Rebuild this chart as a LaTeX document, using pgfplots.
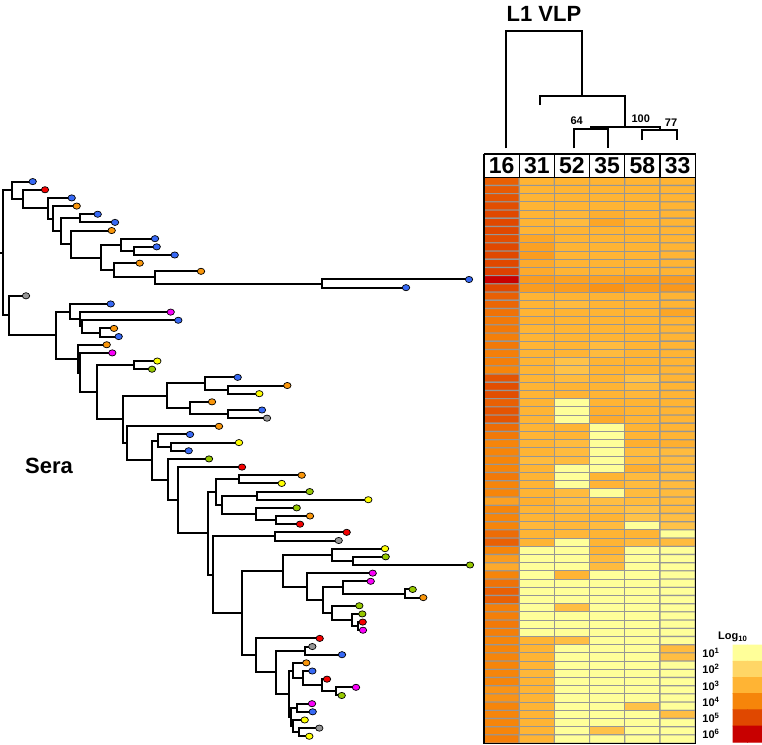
\documentclass[border=0pt]{standalone}
\usepackage{fontspec}
\setmainfont{Liberation Sans}
\usepackage{pgfplots}
\pgfplotsset{compat=1.18}
\definecolor{tblue}{RGB}{55,105,245}
\definecolor{tred}{RGB}{245,0,0}
\definecolor{torange}{RGB}{250,150,10}
\definecolor{tmag}{RGB}{250,0,250}
\definecolor{tyel}{RGB}{255,255,0}
\definecolor{tgreen}{RGB}{150,200,0}
\definecolor{tgray}{RGB}{150,150,150}
\definecolor{gridc}{RGB}{150,150,150}
\pgfplotsset{
  colormap={heat}{rgb255=(255,255,153) rgb255=(255,214,102) rgb255=(255,180,52) rgb255=(246,133,10) rgb255=(224,72,0) rgb255=(200,0,0)},
  canvas/.style={width=381pt, height=372.5pt, scale only axis, hide axis, clip=false,
    at={(0,0)}, anchor=south west, y dir=reverse, point meta min=1, point meta max=6},
  tips/.style={only marks, mark=*, mark size=1.55pt,
    mark options={fill=#1, draw=black, line width=0.35pt, xscale=1.2}},
}
\begin{document}
\begin{tikzpicture}
% ---- pixel layer: column dendrogram, titles, legend
\begin{axis}[canvas, xmin=0, xmax=762, ymin=0, ymax=745]
\addplot[black, line width=1pt, unbounded coords=jump] coordinates {
 (506,148.3) (506,31) (582.3,31) (582.3,96) (nan,nan)
 (540,105) (540,96) (625,96) (625,126.7) (nan,nan)
 (591,129.3) (591,126.7) (659.5,126.7) (659.5,130) (nan,nan)
 (574.3,148.3) (574.3,129.3) (607.7,129.3) (607.7,148.3) (nan,nan)
 (642.3,140) (642.3,130) (676.7,130) (676.7,140)
};
\node[font=\fontsize{11}{13}\selectfont\bfseries] at (axis cs:544,13.5) {L1 VLP};
\node[font=\fontsize{5.5}{6}\selectfont\bfseries] at (axis cs:576.7,121) {64};
\node[font=\fontsize{5.5}{6}\selectfont\bfseries] at (axis cs:640.7,119) {100};
\node[font=\fontsize{5.5}{6}\selectfont\bfseries] at (axis cs:671,122.3) {77};
\node[font=\fontsize{11}{13}\selectfont\bfseries] at (axis cs:49,466) {Sera};
% legend
\addplot[matrix plot*, mesh/cols=2, point meta=explicit] coordinates {
 (740.25,653.1) [1] (754.75,653.1) [1]
 (740.25,669.3) [2] (754.75,669.3) [2]
 (740.25,685.5) [3] (754.75,685.5) [3]
 (740.25,701.7) [4] (754.75,701.7) [4]
 (740.25,717.9) [5] (754.75,717.9) [5]
 (740.25,734.1) [6] (754.75,734.1) [6]
};
\node[font=\fontsize{5.5}{6}\selectfont\bfseries] at (axis cs:733,637) {Log\textsubscript{10}};
\foreach \k/\yy in {1/653.1,2/669.3,3/685.5,4/701.7,5/717.9,6/734.1}{
  \edef\temp{\noexpand\node[font=\noexpand\fontsize{5.5}{6}\noexpand\selectfont\noexpand\bfseries, anchor=east] at (axis cs:727,\yy) {10\noexpand\textsuperscript{\k}};}
  \temp
}
\end{axis}
% ---- heatmap layer: column c, row r
\begin{axis}[canvas, xmin=-13.25, xmax=8.398, ymin=-21.122, ymax=69.732]
\addplot[matrix plot*, shader=faceted, faceted color=gridc, line width=0.55pt,
  mesh/cols=6, point meta=explicit] coordinates {
(1,1)[4.6] (2,1)[3] (3,1)[3] (4,1)[3] (5,1)[3] (6,1)[3]
(1,2)[4.7] (2,2)[3] (3,2)[3] (4,2)[3] (5,2)[3] (6,2)[3]
(1,3)[4.8] (2,3)[3] (3,3)[3] (4,3)[3] (5,3)[3] (6,3)[3]
(1,4)[4.9] (2,4)[3] (3,4)[3] (4,4)[3] (5,4)[3] (6,4)[3]
(1,5)[5.0] (2,5)[3] (3,5)[2.9] (4,5)[3.1] (5,5)[3] (6,5)[3]
(1,6)[5.0] (2,6)[3] (3,6)[2.8] (4,6)[3.3] (5,6)[3] (6,6)[3]
(1,7)[5.0] (2,7)[3] (3,7)[3] (4,7)[3] (5,7)[3] (6,7)[3]
(1,8)[4.9] (2,8)[3.3] (3,8)[3] (4,8)[3] (5,8)[3] (6,8)[3]
(1,9)[5.0] (2,9)[3.4] (3,9)[3] (4,9)[3] (5,9)[3] (6,9)[3]
(1,10)[5.0] (2,10)[3.5] (3,10)[3] (4,10)[3] (5,10)[3] (6,10)[3]
(1,11)[5.0] (2,11)[3.2] (3,11)[3] (4,11)[3] (5,11)[3] (6,11)[3]
(1,12)[5.1] (2,12)[3.2] (3,12)[3] (4,12)[3] (5,12)[3] (6,12)[3]
(1,13)[6.0] (2,13)[3.5] (3,13)[3.4] (4,13)[3.4] (5,13)[3.5] (6,13)[3.5]
(1,14)[5.0] (2,14)[3.5] (3,14)[3.5] (4,14)[3.7] (5,14)[3.5] (6,14)[3.6]
(1,15)[4.6] (2,15)[3] (3,15)[3] (4,15)[3] (5,15)[3] (6,15)[3]
(1,16)[4.5] (2,16)[3] (3,16)[2.8] (4,16)[3] (5,16)[3] (6,16)[3]
(1,17)[4.3] (2,17)[3] (3,17)[3] (4,17)[3] (5,17)[3] (6,17)[3.3]
(1,18)[4.2] (2,18)[3.1] (3,18)[3] (4,18)[3] (5,18)[3] (6,18)[3]
(1,19)[4.2] (2,19)[3] (3,19)[3] (4,19)[3] (5,19)[3] (6,19)[3]
(1,20)[4.1] (2,20)[3] (3,20)[3] (4,20)[3] (5,20)[3] (6,20)[3]
(1,21)[4.2] (2,21)[3] (3,21)[3] (4,21)[2.8] (5,21)[3] (6,21)[3]
(1,22)[4.1] (2,22)[3] (3,22)[3] (4,22)[2.8] (5,22)[3] (6,22)[3]
(1,23)[4.1] (2,23)[3] (3,23)[2.6] (4,23)[3] (5,23)[3] (6,23)[3]
(1,24)[4.0] (2,24)[3] (3,24)[2.6] (4,24)[3] (5,24)[3] (6,24)[3]
(1,25)[4.8] (2,25)[3] (3,25)[2.8] (4,25)[3] (5,25)[2.6] (6,25)[3]
(1,26)[4.9] (2,26)[3] (3,26)[3] (4,26)[3] (5,26)[2.8] (6,26)[3]
(1,27)[4.9] (2,27)[3] (3,27)[3] (4,27)[3] (5,27)[2.9] (6,27)[3]
(1,28)[4.6] (2,28)[3] (3,28)[1] (4,28)[3] (5,28)[3] (6,28)[3]
(1,29)[4.8] (2,29)[3] (3,29)[1] (4,29)[3.1] (5,29)[3] (6,29)[3]
(1,30)[4.8] (2,30)[3] (3,30)[1] (4,30)[3.2] (5,30)[3] (6,30)[3]
(1,31)[4.4] (2,31)[3] (3,31)[3] (4,31)[1] (5,31)[3] (6,31)[3]
(1,32)[4.2] (2,32)[3] (3,32)[3] (4,32)[1] (5,32)[3] (6,32)[3]
(1,33)[4.0] (2,33)[3] (3,33)[2.8] (4,33)[1] (5,33)[3.1] (6,33)[3.1]
(1,34)[4.0] (2,34)[3] (3,34)[2.8] (4,34)[1] (5,34)[2.8] (6,34)[2.8]
(1,35)[4.0] (2,35)[2.8] (3,35)[2.8] (4,35)[1] (5,35)[2.8] (6,35)[2.8]
(1,36)[4.0] (2,36)[3] (3,36)[1] (4,36)[1] (5,36)[3.1] (6,36)[2.8]
(1,37)[4.2] (2,37)[3] (3,37)[1] (4,37)[3] (5,37)[2.8] (6,37)[2.8]
(1,38)[4.0] (2,38)[3] (3,38)[1] (4,38)[3] (5,38)[2.8] (6,38)[2.8]
(1,39)[4.0] (2,39)[3] (3,39)[2.8] (4,39)[1] (5,39)[2.8] (6,39)[2.8]
(1,40)[3.4] (2,40)[3.1] (3,40)[2.7] (4,40)[2.7] (5,40)[2.8] (6,40)[2.8]
(1,41)[4.0] (2,41)[3] (3,41)[2.8] (4,41)[2.8] (5,41)[2.6] (6,41)[2.8]
(1,42)[4.0] (2,42)[3] (3,42)[2.9] (4,42)[3] (5,42)[2.6] (6,42)[2.7]
(1,43)[4.0] (2,43)[2.9] (3,43)[2.9] (4,43)[2.8] (5,43)[1] (6,43)[2.6]
(1,44)[4.4] (2,44)[3] (3,44)[2.9] (4,44)[3] (5,44)[3] (6,44)[1]
(1,45)[4.6] (2,45)[3] (3,45)[1] (4,45)[3] (5,45)[2.8] (6,45)[2.8]
(1,46)[4.0] (2,46)[1] (3,46)[1] (4,46)[3] (5,46)[1] (6,46)[1]
(1,47)[3.5] (2,47)[1] (3,47)[1] (4,47)[2.8] (5,47)[1] (6,47)[1]
(1,48)[3.2] (2,48)[1] (3,48)[1] (4,48)[2.8] (5,48)[1] (6,48)[1]
(1,49)[4.0] (2,49)[1] (3,49)[3] (4,49)[1] (5,49)[1] (6,49)[1]
(1,50)[4.3] (2,50)[1] (3,50)[1] (4,50)[1] (5,50)[1] (6,50)[1]
(1,51)[4.6] (2,51)[1] (3,51)[1] (4,51)[1] (5,51)[1] (6,51)[1]
(1,52)[4.6] (2,52)[1] (3,52)[1] (4,52)[1] (5,52)[1] (6,52)[1]
(1,53)[4.1] (2,53)[1] (3,53)[2.7] (4,53)[1] (5,53)[1] (6,53)[1]
(1,54)[4.1] (2,54)[1] (3,54)[1] (4,54)[1] (5,54)[1] (6,54)[1]
(1,55)[4.2] (2,55)[1] (3,55)[1] (4,55)[1] (5,55)[1] (6,55)[1]
(1,56)[4.1] (2,56)[1] (3,56)[1] (4,56)[1] (5,56)[1] (6,56)[1]
(1,57)[4.0] (2,57)[3] (3,57)[2.7] (4,57)[1] (5,57)[1] (6,57)[1]
(1,58)[4.0] (2,58)[3] (3,58)[1] (4,58)[1] (5,58)[1] (6,58)[2.8]
(1,59)[4.0] (2,59)[3] (3,59)[1] (4,59)[1] (5,59)[1] (6,59)[2.7]
(1,60)[4.0] (2,60)[3] (3,60)[1] (4,60)[1] (5,60)[1] (6,60)[1]
(1,61)[4.0] (2,61)[2.9] (3,61)[1] (4,61)[1] (5,61)[1] (6,61)[1]
(1,62)[4.0] (2,62)[3] (3,62)[1] (4,62)[1] (5,62)[1] (6,62)[1]
(1,63)[3.7] (2,63)[3] (3,63)[1] (4,63)[1] (5,63)[1] (6,63)[1]
(1,64)[3.7] (2,64)[3] (3,64)[1] (4,64)[1] (5,64)[1] (6,64)[1]
(1,65)[4.0] (2,65)[3] (3,65)[1] (4,65)[1] (5,65)[2.6] (6,65)[1]
(1,66)[4.0] (2,66)[3] (3,66)[1] (4,66)[1] (5,66)[1] (6,66)[2.7]
(1,67)[4.0] (2,67)[3] (3,67)[1] (4,67)[1] (5,67)[1] (6,67)[1]
(1,68)[4.0] (2,68)[3] (3,68)[1] (4,68)[2.6] (5,68)[1] (6,68)[1]
(1,69)[4.1] (2,69)[3] (3,69)[1] (4,69)[1] (5,69)[1] (6,69)[1]
};
% outer border and header boxes
\addplot[black, line width=0.6pt] coordinates {(0.5,0.5) (6.5,0.5) (6.5,69.5) (0.5,69.5) (0.5,0.5)};
\addplot[black, fill=white, line width=0.6pt] coordinates {(0.5,-2.34) (6.5,-2.34) (6.5,0.5) (0.5,0.5) (0.5,-2.34)};
\addplot[black, line width=0.6pt, unbounded coords=jump] coordinates {
 (1.5,-2.34) (1.5,0.5) (nan,nan) (2.5,-2.34) (2.5,0.5) (nan,nan) (3.5,-2.34) (3.5,0.5) (nan,nan)
 (4.5,-2.34) (4.5,0.5) (nan,nan) (5.5,-2.34) (5.5,0.5)};
\foreach \c/\lab in {1/16,2/31,3/52,4/35,5/58,6/33}{
  \edef\temp{\noexpand\node[font=\noexpand\fontsize{11.5}{13}\noexpand\selectfont\noexpand\bfseries] at (axis cs:\c,-0.93) {\lab};}
  \temp
}
\end{axis}
% ---- tree layer: x in pixels, y = tip index
\begin{axis}[canvas, xmin=0, xmax=762, ymin=-21.263, ymax=70.07]
\addplot[black, line width=1pt, unbounded coords=jump] coordinates {
 (0,9.74) (2.7,9.74) (nan,nan)
 (12.3,2.07) (2.7,2.07) (2.7,17.41) (9,17.41) (nan,nan)
 (32.7,1) (12.3,1) (12.3,3.13) (23.3,3.13) (nan,nan)
 (45,2) (23.3,2) (23.3,4.27) (48,4.27) (nan,nan)
 (71.7,3) (48,3) (48,5.54) (53.3,5.54) (nan,nan)
 (76.7,4) (53.3,4) (53.3,7.08) (60.7,7.08) (nan,nan)
 (80,5.5) (60.7,5.5) (60.7,8.66) (71,8.66) (nan,nan)
 (97.7,5) (80,5) (80,6) (115,6) (nan,nan)
 (111.7,7) (71,7) (71,10.31) (101,10.31) (nan,nan)
 (121,8.75) (101,8.75) (101,11.875) (114,11.875) (nan,nan)
 (155,8) (121,8) (121,9.5) (134,9.5) (nan,nan)
 (156.7,9) (134,9) (134,10) (174.7,10) (nan,nan)
 (139.7,11) (114,11) (114,12.75) (155,12.75) (nan,nan)
 (201,12) (155,12) (155,13.5) (322,13.5) (nan,nan)
 (469,13) (322,13) (322,14) (406,14) (nan,nan)
 (26,15) (9,15) (9,19.83) (56,19.83) (nan,nan)
 (70,16.94) (56,16.94) (56,22.71) (78.3,22.71) (nan,nan)
 (110.7,16) (70,16) (70,17.88) (80,17.88) (nan,nan)
 (170.7,17) (80,17) (80,18.75) (81.7,18.75) (nan,nan)
 (178.3,18) (81.7,18) (81.7,19.5) (100,19.5) (nan,nan)
 (114,19) (100,19) (100,20) (118.7,20) (nan,nan)
 (106.7,21) (78.3,21) (78.3,24.42) (80,24.42) (nan,nan)
 (112.3,22) (80,22) (80,26.83) (96.7,26.83) (nan,nan)
 (134,23.5) (96.7,23.5) (96.7,30.16) (122.7,30.16) (nan,nan)
 (157.3,23) (134,23) (134,24) (152,24) (nan,nan)
 (166.7,27.25) (122.7,27.25) (122.7,33.07) (126.7,33.07) (nan,nan)
 (205,25.75) (166.7,25.75) (166.7,28.75) (190,28.75) (nan,nan)
 (237.7,25) (205,25) (205,26.5) (228.3,26.5) (nan,nan)
 (287.3,26) (228.3,26) (228.3,27) (259.3,27) (nan,nan)
 (212,28) (190,28) (190,29.5) (228.3,29.5) (nan,nan)
 (262,29) (228.3,29) (228.3,30) (267,30) (nan,nan)
 (219,31) (126.7,31) (126.7,35.14) (152.3,35.14) (nan,nan)
 (157.7,32.75) (152.3,32.75) (152.3,37.53) (167.7,37.53) (nan,nan)
 (190,32) (157.7,32) (157.7,33.5) (171,33.5) (nan,nan)
 (239,33) (171,33) (171,34) (188.7,34) (nan,nan)
 (209,35) (167.7,35) (167.7,40.06) (177.7,40.06) (nan,nan)
 (242,36) (177.7,36) (177.7,44.13) (207.7,44.13) (nan,nan)
 (216,39.06) (207.7,39.06) (207.7,49.19) (213.3,49.19) (nan,nan)
 (239.3,37.5) (216,37.5) (216,40.63) (221.7,40.63) (nan,nan)
 (301.7,37) (239.3,37) (239.3,38) (281.7,38) (nan,nan)
 (256.7,39.5) (221.7,39.5) (221.7,41.75) (255.7,41.75) (nan,nan)
 (309.7,39) (256.7,39) (256.7,40) (368.3,40) (nan,nan)
 (296.7,41) (255.7,41) (255.7,42.5) (276,42.5) (nan,nan)
 (310,42) (276,42) (276,43) (300,43) (nan,nan)
 (275.3,44.5) (213.3,44.5) (213.3,53.88) (241.7,53.88) (nan,nan)
 (346.7,44) (275.3,44) (275.3,45) (338.7,45) (nan,nan)
 (282.7,48.7) (241.7,48.7) (241.7,59.07) (256,59.07) (nan,nan)
 (331.7,46.75) (282.7,46.75) (282.7,50.66) (306.7,50.66) (nan,nan)
 (385,46) (331.7,46) (331.7,47.5) (353.3,47.5) (nan,nan)
 (385.7,47) (353.3,47) (353.3,48) (470,48) (nan,nan)
 (372.7,49) (306.7,49) (306.7,52.31) (322.7,52.31) (nan,nan)
 (343.3,50.75) (322.7,50.75) (322.7,53.88) (332.3,53.88) (nan,nan)
 (370.7,50) (343.3,50) (343.3,51.5) (405,51.5) (nan,nan)
 (412.7,51) (405,51) (405,52) (423.3,52) (nan,nan)
 (359.3,53) (332.3,53) (332.3,54.75) (351.7,54.75) (nan,nan)
 (362.3,54) (351.7,54) (351.7,55.5) (357.7,55.5) (nan,nan)
 (362.7,55) (357.7,55) (357.7,56) (363,56) (nan,nan)
 (319.7,57) (256,57) (256,61.14) (276,61.14) (nan,nan)
 (305,58.5) (276,58.5) (276,63.78) (289.3,63.78) (nan,nan)
 (312.3,58) (305,58) (305,59) (342,59) (nan,nan)
 (293.3,60.94) (289.3,60.94) (289.3,66.63) (290.7,66.63) (nan,nan)
 (306.3,60) (293.3,60) (293.3,61.88) (302.7,61.88) (nan,nan)
 (312.3,61) (302.7,61) (302.7,62.75) (321.7,62.75) (nan,nan)
 (327,62) (321.7,62) (321.7,63.5) (336,63.5) (nan,nan)
 (356,63) (336,63) (336,64) (341.7,64) (nan,nan)
 (296.7,65.5) (290.7,65.5) (290.7,67.75) (292.7,67.75) (nan,nan)
 (312,65) (296.7,65) (296.7,66) (312.7,66) (nan,nan)
 (304.7,67) (292.7,67) (292.7,68.5) (299.3,68.5) (nan,nan)
 (319.3,68) (299.3,68) (299.3,69) (309.3,69)
};
\addplot[tips=tblue] coordinates {(32.7,1) (71.7,3) (97.7,5) (115,6) (155,8) (156.7,9) (174.7,10)
 (469,13) (406,14) (110.7,16) (178.3,18) (118.7,20) (237.7,25) (262,29) (190,32) (188.7,34)
 (342,59) (312.3,61) (312.7,66)};
\addplot[tips=tred] coordinates {(45,2) (242,36) (300,43) (346.7,44) (362.7,55) (319.7,57) (327,62)};
\addplot[tips=torange] coordinates {(76.7,4) (111.7,7) (139.7,11) (201,12) (114,19) (106.7,21)
 (287.3,26) (212,28) (219,31) (301.7,37) (310,42) (423.3,52) (306.3,60)};
\addplot[tips=tmag] coordinates {(170.7,17) (112.3,22) (372.7,49) (370.7,50) (363,56) (356,63) (312,65)};
\addplot[tips=tyel] coordinates {(157.3,23) (259.3,27) (239,33) (281.7,38) (368.3,40) (385,46)
 (304.7,67) (309.3,69)};
\addplot[tips=tgreen] coordinates {(152,24) (209,35) (309.7,39) (296.7,41) (385.7,47) (470,48)
 (412.7,51) (359.3,53) (362.3,54) (341.7,64)};
\addplot[tips=tgray] coordinates {(26,15) (267,30) (338.7,45) (312.3,58) (319.3,68)};
\end{axis}
\pgfresetboundingbox
\useasboundingbox (0,0) rectangle (381pt,372.5pt);
\end{tikzpicture}
\end{document}
